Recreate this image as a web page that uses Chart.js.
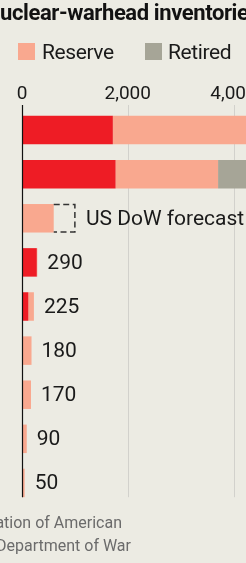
<!DOCTYPE html>
<html>
<head>
<meta charset="utf-8">
<script src="https://cdn.jsdelivr.net/npm/chart.js@4"></script>
<style>
  html, body { margin: 0; padding: 0; }
  body { width: 246px; height: 563px; overflow: hidden; background: #ecebe3; position: relative; font-family: Roboto, sans-serif; color: #1a1a1a; }
  #wrap { position: absolute; left: 0; top: 0; width: 500px; height: 563px; }
  .abs { position: absolute; white-space: nowrap; }
  #title { left: 0; top: 0; font-weight: 700; font-size: 22px; line-height: 26px; letter-spacing: -0.4px; color: #121212; }
  #title .cut { position: absolute; right: 100%; }
  .sw { position: absolute; width: 17px; height: 17px; }
  .lg { font-size: 21px; line-height: 24px; letter-spacing: -0.4px; color: #1a1a1a; }
  .src { font-size: 16px; line-height: 23px; color: #6b6b6b; text-align: right; }
</style>
</head>
<body>
<div id="wrap"><canvas id="chart" width="500" height="563"></canvas></div>
<div id="title" class="abs"><span class="cut">N</span>uclear-warhead inventories, 2025</div>
<div class="sw" style="left:18px;top:43px;background:#f9a88f"></div>
<div class="abs lg" style="left:42px;top:40px">Reserve</div>
<div class="sw" style="left:145px;top:43px;background:#a6a597"></div>
<div class="abs lg" style="left:168px;top:40px">Retired</div>
<div class="abs src" style="right:124px;top:511px">Sources: Federation of American</div>
<div class="abs src" style="right:115px;top:534px">Scientists; US Department of War</div>
<script>
const countries = ['Russia', 'United States', 'China', 'France', 'Britain', 'India', 'Pakistan', 'Israel', 'North Korea'];
const deployed = [1718, 1770, 0, 280, 120, 0, 0, 0, 0];
const reserve = [2591, 1938, 600, 10, 105, 180, 170, 90, 50];
const retired = [1150, 1477, 0, 0, 0, 0, 0, 0, 0];
const chinaForecast = 1000; // US DoW forecast for 2030
const xTicks = [0, 2000, 4000, 6000, 8000];

const RED = '#ee1c25', PINK = '#f9a88f', GREY = '#a6a597';

// gridlines, zero line, dashed forecast box and value labels
const extras = {
  id: 'extras',
  beforeDatasetsDraw(chart) {
    const ctx = chart.ctx, x = chart.scales.x;
    const meta = chart.getDatasetMeta(1);
    const last = meta.data[meta.data.length - 1];
    const top = chart.chartArea.top - 3, bottom = last.y + last.height / 2;
    ctx.save();
    ctx.strokeStyle = '#d2d1cc';
    ctx.lineWidth = 1;
    xTicks.slice(1).forEach(v => {
      const px = Math.round(x.getPixelForValue(v)) + 0.5;
      ctx.beginPath(); ctx.moveTo(px, top); ctx.lineTo(px, bottom); ctx.stroke();
    });
    ctx.restore();
  },
  afterDatasetsDraw(chart) {
    const ctx = chart.ctx, x = chart.scales.x;
    const meta = chart.getDatasetMeta(1);
    const last = meta.data[meta.data.length - 1];
    const top = chart.chartArea.top - 3, bottom = last.y + last.height / 2;
    ctx.save();
    // zero line
    const z = Math.round(x.getPixelForValue(0)) + 0.5;
    ctx.strokeStyle = '#111';
    ctx.lineWidth = 1.2;
    ctx.beginPath(); ctx.moveTo(z, top); ctx.lineTo(z, bottom); ctx.stroke();

    // China forecast box
    const cn = meta.data[2];
    const x0 = x.getPixelForValue(deployed[2] + reserve[2]);
    const x1 = x.getPixelForValue(chinaForecast);
    const y0 = cn.y - cn.height / 2 + 0.5, y1 = cn.y + cn.height / 2 - 0.5;
    ctx.strokeStyle = '#333';
    ctx.lineWidth = 1.5;
    ctx.setLineDash([6, 3.5]);
    ctx.beginPath();
    ctx.moveTo(x0, y0); ctx.lineTo(x1, y0); ctx.lineTo(x1, y1); ctx.lineTo(x0, y1);
    ctx.stroke();
    ctx.setLineDash([]);

    ctx.fillStyle = '#1a1a1a';
    ctx.font = '21px Roboto, sans-serif';
    ctx.textBaseline = 'middle';
    ctx.textAlign = 'left';
    ctx.fillText('US DoW forecast for 2030', x1 + 11, cn.y + 1);

    for (let i = 3; i < countries.length; i++) {
      const total = deployed[i] + reserve[i] + retired[i];
      const el = meta.data[i];
      ctx.fillText(String(total), x.getPixelForValue(total) + 10, el.y + 1);
    }
    ctx.restore();
  }
};

new Chart(document.getElementById('chart'), {
  type: 'bar',
  data: {
    labels: countries,
    datasets: [
      { label: 'Deployed', data: deployed, backgroundColor: RED },
      { label: 'Reserve', data: reserve, backgroundColor: PINK },
      { label: 'Retired', data: retired, backgroundColor: GREY }
    ]
  },
  options: {
    indexAxis: 'y',
    responsive: false,
    animation: false,
    datasets: { bar: { categoryPercentage: 1, barPercentage: 0.646, borderWidth: 0 } },
    layout: { padding: { left: 22, right: 55, top: 82, bottom: 58 } },
    scales: {
      x: {
        position: 'top',
        stacked: true,
        min: 0,
        max: 8000,
        afterBuildTicks: s => { s.ticks = xTicks.map(v => ({ value: v })); },
        afterFit: s => { s.height = 26; },
        ticks: {
          padding: 2,
          color: '#1a1a1a',
          font: { family: 'Roboto, sans-serif', size: 19 },
          callback: v => v.toLocaleString('en-US')
        },
        grid: { display: false, drawTicks: false },
        border: { display: false }
      },
      y: { stacked: true, display: false }
    },
    plugins: { legend: { display: false }, tooltip: { enabled: false } }
  },
  plugins: [extras]
});
</script>
</body>
</html>
